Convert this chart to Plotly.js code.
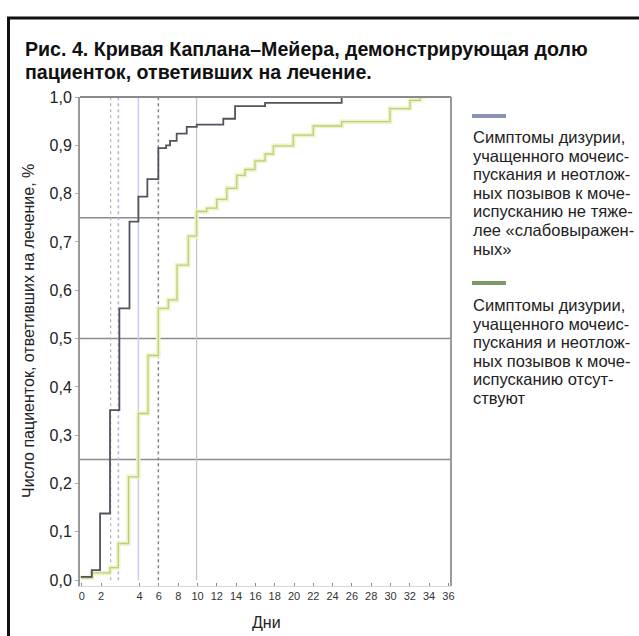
<!DOCTYPE html>
<html><head><meta charset="utf-8">
<script src="https://cdn.plot.ly/plotly-3.0.1.min.js"></script>
<style>html,body{margin:0;padding:0;background:#fff}#c{width:639px;height:636px}</style>
</head><body><div id="c"></div>
<script>
// x axis: regular tick slots, label "4" follows "2" after one empty slot (as printed)
const xTickVals = [0,2,6,8,10,12,14,16,18,20,22,24,26,28,30,32,34,36,38];
const xTickText = ['0','2','4','6','8','10','12','14','16','18','20','22','24','26','28','30','32','34','36'];
const yTickVals = [0,0.1,0.2,0.3,0.4,0.5,0.6,0.7,0.8,0.9,1.0];
const yTickText = ['0,0','0,1','0,2','0,3','0,4','0,5','0,6','0,7','0,8','0,9','1,0'];

// "слабовыраженные" symptoms (dark curve)
const darkX = [-0.1,1.04,1.9,2.93,3.9,4.95,5.87,6.8,7.94,8.74,9.15,9.84,10.88,11.92,14.67,15.89,19.0,26.94,27.5];
const darkY = [0.007,0.021,0.138,0.352,0.5625,0.742,0.794,0.83,0.894,0.90,0.909,0.924,0.938,0.943,0.955,0.981,0.988,1.0,1.0];
// symptoms absent (green curve)
const greenX = [-0.1,1.07,2.93,3.79,4.85,5.87,6.87,7.94,8.97,9.88,11.05,11.9,12.95,13.99,15.03,16.06,16.92,17.96,19.0,19.86,21.93,24.0,26.94,31.95,34.02,35.06,35.6];
const greenY = [0.005,0.015,0.026,0.076,0.214,0.345,0.465,0.5625,0.58,0.652,0.712,0.763,0.77,0.788,0.811,0.838,0.85,0.868,0.882,0.899,0.921,0.940,0.949,0.976,0.993,1.0,1.0];

const refX = [3.0,3.8,5.87,7.94,11.9];
const refY = [0.25,0.5,0.75];

const titleLines = ['Рис. 4. Кривая Каплана–Мейера, демонстрирующая долю','пациенток, ответивших на лечение.'];
const legend1 = ['Симптомы дизурии,','учащенного мочеис-','пускания и неотлож-','ных позывов к моче-','испусканию не тяже-','лее «слабовыражен-','ных»'];
const legend2 = ['Симптомы дизурии,','учащенного мочеис-','пускания и неотлож-','ных позывов к моче-','испусканию отсут-','ствуют'];

const W=639,H=636,L=80,R=188,T=97,B=50;
const pw=W-L-R, ph=H-T-B;
const px2x = p => (p-L)/pw;
const py2y = p => (H-B-p)/ph;

const refStyles = [
  {color:'#b4b4b4',dash:'dot',width:1.2},
  {color:'#b0b6e2',dash:'dot',width:1.5},
  {color:'#c8ccf0',dash:'solid',width:1.5},
  {color:'#858585',dash:'dot',width:1.5},
  {color:'#c4c4cc',dash:'solid',width:1.3}
];
const shapes = [];
refX.forEach((v,i)=>shapes.push({type:'line',xref:'x',yref:'y',x0:v,x1:v,y0:0,y1:1,line:refStyles[i],layer:'below'}));
refY.forEach(v=>shapes.push({type:'line',xref:'paper',yref:'y',x0:0,x1:1,y0:v,y1:v,line:{color:'#8c8c8c',width:1.5},layer:'below'}));
// plot frame (top / right)
shapes.push({type:'line',xref:'paper',yref:'paper',x0:0,x1:1,y0:1,y1:1,line:{color:'#8a8a8a',width:1.8}});
shapes.push({type:'line',xref:'paper',yref:'paper',x0:1,x1:1,y0:0,y1:1,line:{color:'#9a9a9a',width:2}});
// outer black box
shapes.push({type:'rect',xref:'paper',yref:'paper',x0:px2x(8.5),x1:px2x(645),y0:py2y(645),y1:py2y(18),line:{color:'#111',width:3}});
// legend bars
shapes.push({type:'line',xref:'paper',yref:'paper',x0:px2x(472),x1:px2x(506),y0:py2y(116),y1:py2y(116),line:{color:'#8a93b3',width:4}});
shapes.push({type:'line',xref:'paper',yref:'paper',x0:px2x(472),x1:px2x(506),y0:py2y(283),y1:py2y(283),line:{color:'#7e9868',width:4}});

const ann = [];
titleLines.forEach((t,i)=>ann.push({xref:'paper',yref:'paper',x:px2x(23),y:py2y(49+i*23),xanchor:'left',yanchor:'middle',showarrow:false,text:'<b>'+t+'</b>',font:{family:'Liberation Sans Narrow, Arial Narrow, sans-serif',size:19.6,color:'#111'}}));
legend1.forEach((t,i)=>ann.push({xref:'paper',yref:'paper',x:px2x(471),y:py2y(137+i*18.6),xanchor:'left',yanchor:'middle',showarrow:false,text:t,font:{family:'Liberation Sans, Arial, sans-serif',size:16.5,color:'#222'}}));
legend2.forEach((t,i)=>ann.push({xref:'paper',yref:'paper',x:px2x(471),y:py2y(305+i*18.6),xanchor:'left',yanchor:'middle',showarrow:false,text:t,font:{family:'Liberation Sans, Arial, sans-serif',size:16.5,color:'#222'}}));
ann.push({xref:'paper',yref:'paper',x:px2x(28),y:py2y(331),xanchor:'center',yanchor:'middle',textangle:-90,showarrow:false,text:'Число пациенток, ответивших на лечение, %',font:{family:'Liberation Sans, Arial, sans-serif',size:16,color:'#222'}});
ann.push({xref:'paper',yref:'paper',x:px2x(266),y:py2y(622),xanchor:'center',yanchor:'middle',showarrow:false,text:'Дни',font:{family:'Liberation Sans, Arial, sans-serif',size:16,color:'#222'}});

const traces = [
  {x:greenX,y:greenY,mode:'lines',line:{shape:'hv',color:'#eef4c6',width:4.5},hoverinfo:'skip'},
  {x:greenX,y:greenY,mode:'lines',line:{shape:'hv',color:'#c0cc80',width:1.3}},
  {x:darkX,y:darkY,mode:'lines',line:{shape:'hv',color:'#50545e',width:1.8}}
];
const layout = {
  width:W,height:H,margin:{l:L,r:R,t:T,b:B},
  paper_bgcolor:'#fff',plot_bgcolor:'#fff',showlegend:false,
  xaxis:{range:[-0.18,38.27],tickvals:xTickVals,ticktext:xTickText,showgrid:false,zeroline:false,
    showline:true,linecolor:'#d8d8d8',linewidth:1,ticks:'inside',ticklen:3,tickcolor:'#888',
    tickfont:{family:'Liberation Sans, Arial, sans-serif',size:11,color:'#333'}},
  yaxis:{range:[-0.012,1.0],tickvals:yTickVals,ticktext:yTickText,showgrid:false,zeroline:false,
    showline:true,linecolor:'#9a9a9a',linewidth:2,ticks:'outside',ticklen:3,tickcolor:'#aaa',
    tickfont:{family:'Liberation Sans, Arial, sans-serif',size:16,color:'#222'}},
  shapes:shapes,annotations:ann
};
Plotly.newPlot('c',traces,layout,{staticPlot:true});
</script></body></html>
